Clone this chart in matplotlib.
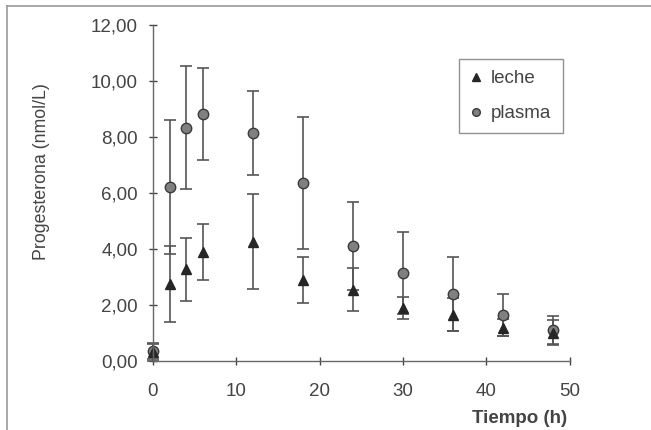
import numpy as np
import matplotlib.pyplot as plt
from matplotlib.ticker import FuncFormatter
from matplotlib.lines import Line2D

plt.rcParams['font.family'] = ['Liberation Sans', 'DejaVu Sans']

# Data
tiempo = [0, 2, 4, 6, 12, 18, 24, 30, 36, 42, 48]
plasma = [0.35, 6.20, 8.33, 8.82, 8.14, 6.35, 4.10, 3.13, 2.37, 1.62, 1.10]
plasma_err = [0.30, 2.40, 2.20, 1.65, 1.50, 2.35, 1.56, 1.47, 1.32, 0.75, 0.50]
leche = [0.30, 2.75, 3.27, 3.90, 4.25, 2.87, 2.54, 1.89, 1.65, 1.18, 1.00]
leche_err = [0.30, 1.35, 1.12, 1.00, 1.70, 0.82, 0.76, 0.40, 0.60, 0.30, 0.45]

fig = plt.figure(figsize=(6.51, 4.30), dpi=100)
ax = fig.add_axes([0.235, 0.1612, 0.64, 0.7807])

# thin frame around the figure (left and top edges visible)
fig.add_artist(Line2D([0.011, 0.011], [0, 0.986], transform=fig.transFigure, color='#999999', lw=1.2))
fig.add_artist(Line2D([0.011, 1.0], [0.986, 0.986], transform=fig.transFigure, color='#999999', lw=1.2))

p = ax.errorbar(tiempo, plasma, yerr=plasma_err, fmt='o', color='#555555', ecolor='#555555',
                markerfacecolor='#808080', markeredgecolor='#3a3a3a', markersize=7.5,
                elinewidth=1.2, capsize=4.5, capthick=1.2)
l = ax.errorbar(tiempo, leche, yerr=leche_err, fmt='^', color='#333333', ecolor='#555555',
                markerfacecolor='#262626', markeredgecolor='#262626', markersize=7,
                elinewidth=1.2, capsize=4.5, capthick=1.2)
for cont in (p, l):
    cont[0].set_clip_on(False)
    for c in cont[1]:
        c.set_clip_on(False)
    for c in cont[2]:
        c.set_clip_on(False)

ax.set_xlim(0, 50)
ax.set_ylim(0, 12)
ax.set_xticks([0, 10, 20, 30, 40, 50])
ax.set_yticks(np.arange(0, 13, 2))
ax.yaxis.set_major_formatter(FuncFormatter(lambda v, pos: f'{v:.2f}'.replace('.', ',')))

for s in ['top', 'right']:
    ax.spines[s].set_visible(False)
for s in ['left', 'bottom']:
    ax.spines[s].set_color('#666666')
    ax.spines[s].set_linewidth(1.0)
ax.tick_params(colors='#444444', labelsize=13.5, length=6, width=1.0, direction='inout')
ax.tick_params(axis='x', pad=13)
ax.tick_params(axis='y', pad=8)

ax.set_ylabel('Progesterona (nmol/L)', fontsize=12.8, color='#444444')
ax.yaxis.set_label_coords(-0.248, 0.563)
ax.set_xlabel('Tiempo (h)', fontsize=13.5, fontweight='bold', color='#444444')
ax.xaxis.set_label_coords(0.995, -0.172)
ax.xaxis.label.set_horizontalalignment('right')
ax.xaxis.label.set_verticalalignment('center')

handles = [Line2D([], [], ls='none', marker='^', color='#262626', markersize=5.5),
           Line2D([], [], ls='none', marker='o', markerfacecolor='#808080',
                  markeredgecolor='#3a3a3a', markersize=5.5)]
leg = ax.legend(handles, ['leche', 'plasma'], loc='upper left', bbox_to_anchor=(0.7345, 0.899),
                frameon=True, fancybox=False, edgecolor='#777777', fontsize=13.5,
                handlelength=0.6, handletextpad=0.5, labelspacing=0.95, borderpad=0.6,
                borderaxespad=0)
leg.get_frame().set_linewidth(1.0)
for t in leg.get_texts():
    t.set_color('#444444')

fig.savefig('out.png', dpi=100)
